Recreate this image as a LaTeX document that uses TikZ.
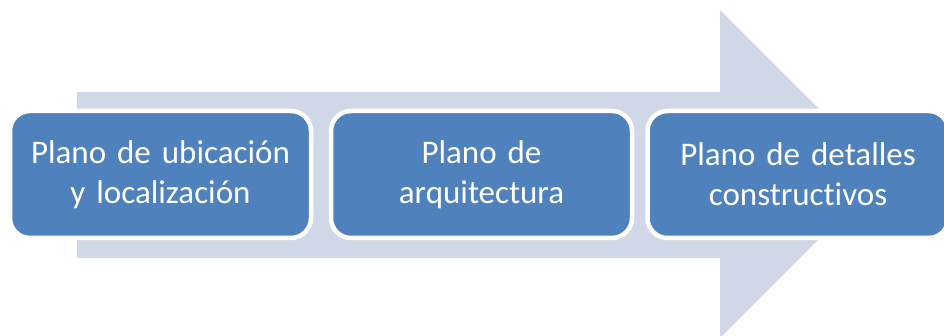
\documentclass[tikz,border=0pt]{standalone}
\usepackage{fontspec}
\setmainfont{Carlito}[Ligatures=NoCommon]
\usetikzlibrary{positioning}
\definecolor{arrowgray}{HTML}{D0D8E8}
\definecolor{boxblue}{HTML}{4F81BD}
\tikzset{
  planbox/.style={draw=white,line width=4.5pt,fill=boxblue,rounded corners=20pt,
    minimum width=301pt,minimum height=127pt,text width=290pt,align=center,
    text=white,font={\fontsize{33}{40}\selectfont\spaceskip=0.19em\relax}}
}

\begin{document}
\begin{tikzpicture}[x=1pt,y=-1pt]
\useasboundingbox (0,0) rectangle (944,336);
\fill[arrowgray] (77,92) -- (720,92) -- (720,10) -- (884,174) -- (720,338) -- (720,258) -- (77,258) -- cycle;

\node[planbox] (ubic) at (160.5,174.5) {Plano de ubicación\\y localización};
\node[planbox] (arq) at (481.5,174.5) {Plano de\\arquitectura};
\node[planbox] (det) at (798,174.5) {Plano de detalles\\constructivos};
\end{tikzpicture}
\end{document}
